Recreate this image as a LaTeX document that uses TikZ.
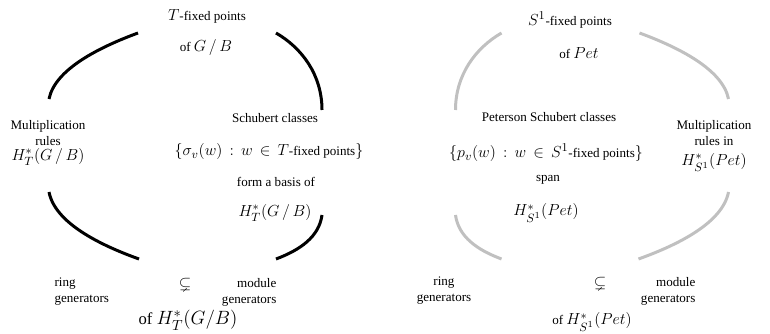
\documentclass[tikz,border=0pt]{standalone}
\usepackage{fontspec}
\setmainfont{Liberation Serif}
\usepackage{amssymb}
\usetikzlibrary{positioning}
\definecolor{arcgray}{RGB}{192,192,192}
\DeclareMathSizes{9.8}{12}{9}{7}
\DeclareMathSizes{12.5}{15}{11}{8}

\begin{document}
\begin{tikzpicture}[
    x=0.75pt, y=-0.75pt,
    font=\fontsize{9.8}{12}\selectfont,
    lbl/.style={inner sep=1pt, align=center},
    biglbl/.style={lbl, font=\fontsize{12.5}{15}\selectfont},
    gbarc/.style={line width=2.25pt, black},
    petarc/.style={line width=2.25pt, arcgray}
]
\useasboundingbox (0,0) rectangle (770,334);

% -- left cycle: G/B --
\node[lbl] (tfix) at (207,16) {$T$-fixed points};
\node[lbl] (ofgb) at (206,48) {of $G\,/\,B$};
\node[lbl] (multgb) at (48,143) {Multiplication\\rules\\[-1pt]$H_T^*(G\,/\,B)$};
\node[lbl] (schub) at (275,118) {Schubert classes};
\node[lbl] (sigma) at (269,152) {$\{\sigma_v(w)\,:\,w\,\in\,T$-fixed points$\}$};
\node[lbl] (basis) at (276,182) {form a basis of};
\node[lbl] (htgb) at (275,213) {$H_T^*(G\,/\,B)$};
\node[lbl, align=left, anchor=west] (ringgb) at (53,292) {ring\\ generators};
\node[lbl] (subgb) at (185,285) {$\subsetneq$};
\node[lbl, align=right, anchor=east] (modgb) at (278,292) {module\\generators};
\node[biglbl] (ofhtgb) at (188,320) {of $H_T^*(G/B)$};

% -- left cycle arcs --
\coordinate (gbA) at (138,33);  \coordinate (gbB) at (49,99);
\coordinate (gbC) at (276,33);  \coordinate (gbD) at (322,110);
\coordinate (gbE) at (49,192);  \coordinate (gbF) at (139,259);
\coordinate (gbG) at (322,215); \coordinate (gbH) at (276,259);
\draw[gbarc] (gbA) .. controls (100,47) and (55,69) .. (gbB);
\draw[gbarc] (gbC) .. controls (302,48) and (322,75) .. (gbD);
\draw[gbarc] (gbE) .. controls (55,223) and (100,245) .. (gbF);
\draw[gbarc] (gbG) .. controls (319,237) and (300,250) .. (gbH);

% -- right cycle: Pet --
\node[lbl] (s1fix) at (570,20) {$S^1$-fixed points};
\node[lbl] (ofpet) at (579,53) {of $Pet$};
\node[lbl] (peter) at (549,117) {Peterson Schubert classes};
\node[lbl] (pset) at (546,153) {$\{p_v(w)\,:\,w\,\in\,S^1$-fixed points$\}$};
\node[lbl] (multpet) at (714,146) {Multiplication\\rules in\\[3pt]$H^*_{S^1}(Pet)$};
\node[lbl] (span) at (548,180) {span};
\node[lbl] (hspet) at (546,213) {$H^*_{S^1}(Pet)$};
\node[lbl] (ringpet) at (444,291) {ring\\generators};
\node[lbl] (subpet) at (600,284) {$\subsetneq$};
\node[lbl, align=right, anchor=east] (modpet) at (697,291) {module\\generators};
\node[lbl] (ofhspet) at (592,322) {of $H^*_{S^1}(Pet)$};

% -- right cycle arcs --
\coordinate (petA) at (639.5,33); \coordinate (petB) at (728.5,99);
\coordinate (petC) at (501.5,33); \coordinate (petD) at (455.5,110);
\coordinate (petE) at (728.5,192); \coordinate (petF) at (638.5,259);
\coordinate (petG) at (455.5,215); \coordinate (petH) at (501.5,259);
\draw[petarc] (petA) .. controls (677.5,47) and (722.5,69) .. (petB);
\draw[petarc] (petC) .. controls (475.5,48) and (455.5,75) .. (petD);
\draw[petarc] (petE) .. controls (722.5,223) and (677.5,245) .. (petF);
\draw[petarc] (petG) .. controls (458.5,237) and (477.5,250) .. (petH);

\end{tikzpicture}
\end{document}
